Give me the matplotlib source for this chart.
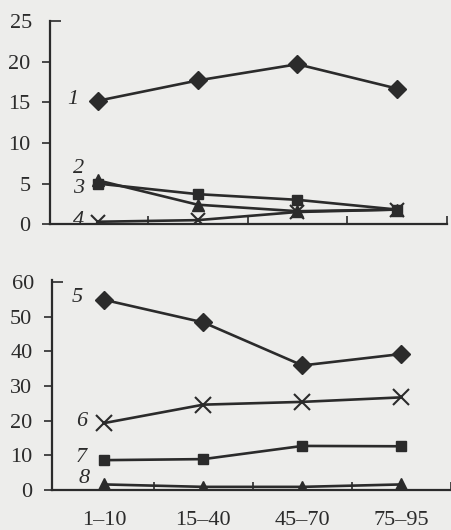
import matplotlib.pyplot as plt

plt.rcParams['font.family'] = ['Liberation Serif', 'DejaVu Serif']

categories = ["1–10", "15–40", "45–70", "75–95"]

# upper panel
s1 = [15.2, 17.7, 19.7, 16.7]
s2 = [5.4, 2.4, 1.6, 1.8]
s3 = [5.0, 3.7, 3.0, 1.8]
s4 = [0.3, 0.5, 1.5, 1.8]

# lower panel
s5 = [54.8, 48.3, 35.9, 39.2]
s6 = [19.3, 24.6, 25.4, 26.7]
s7 = [8.6, 8.9, 12.7, 12.6]
s8 = [1.6, 0.9, 0.9, 1.6]

INK = "#2b2b2b"
BG = "#ededeb"

fig = plt.figure(figsize=(4.51, 5.30), dpi=100, facecolor=BG)
ax1 = fig.add_axes([0.111, 0.577, 0.880, 0.383], facecolor=BG)
ax2 = fig.add_axes([0.115, 0.0755, 0.885, 0.396], facecolor=BG)

x = list(range(len(categories)))
style = dict(color=INK, lw=1.9, mec=INK, mfc=INK)

ax1.plot(x, s1, marker="D", ms=9, **style)
ax1.plot(x, s2, marker="^", ms=8, **style)
ax1.plot(x, s3, marker="s", ms=7, **style)
ax1.plot(x, s4, marker="x", ms=10, mew=1.5, **style)

ax2.plot(x, s5, marker="D", ms=9, **style)
ax2.plot(x, s6, marker="x", ms=11, mew=1.5, **style)
ax2.plot(x, s7, marker="s", ms=7, **style)
ax2.plot(x, s8, marker="^", ms=9, **style)

lab = dict(fontsize=16, style="italic", color=INK, ha="center", va="center")
ax1.text(-0.25, 15.3, "1", **lab)
ax1.text(-0.19, 6.9, "2", **lab)
ax1.text(-0.19, 4.4, "3", **lab)
ax1.text(-0.19, 0.4, "4", **lab)
ax2.text(-0.27, 55.5, "5", **lab)
ax2.text(-0.23, 19.8, "6", **lab)
ax2.text(-0.23, 9.3, "7", **lab)
ax2.text(-0.2, 3.4, "8", **lab)

ax1.set_xlim(-0.48, 3.5)
ax1.set_ylim(0, 25)
ax1.set_yticks([0, 5, 10, 15, 20])
ax1.set_yticks([25], minor=True)
ax1.set_yticklabels(["25"], minor=True)
ax2.set_xlim(-0.53, 3.47)
ax2.set_ylim(0, 60.5)
ax2.set_yticks([0, 10, 20, 30, 40, 50])
ax2.set_yticks([60], minor=True)
ax2.set_yticklabels(["60"], minor=True)

for ax in (ax1, ax2):
    for side in ("top", "right"):
        ax.spines[side].set_visible(False)
    for side in ("left", "bottom"):
        ax.spines[side].set_color(INK)
        ax.spines[side].set_linewidth(1.6)
    ax.set_xticks([0.5, 1.5, 2.5, 3.5])
    ax.set_xticklabels([])
    ax.tick_params(axis="x", direction="in", length=6, width=1.2, color=INK)
    ax.tick_params(axis="y", direction="out", length=6, width=1.2, color=INK,
                   labelsize=16, labelcolor=INK, pad=8)
    # the top tick on each axis points inward
    ax.tick_params(axis="y", which="minor", direction="in", length=8,
                   width=1.2, color=INK, labelsize=16, labelcolor=INK, pad=13)
    ax.set_xticks(x, minor=True)
    ax.tick_params(axis="x", which="minor", length=0, labelsize=16,
                   labelcolor=INK, pad=15)

ax2.set_xticklabels(categories, minor=True)

fig.savefig("out.png", dpi=100, facecolor=BG)
